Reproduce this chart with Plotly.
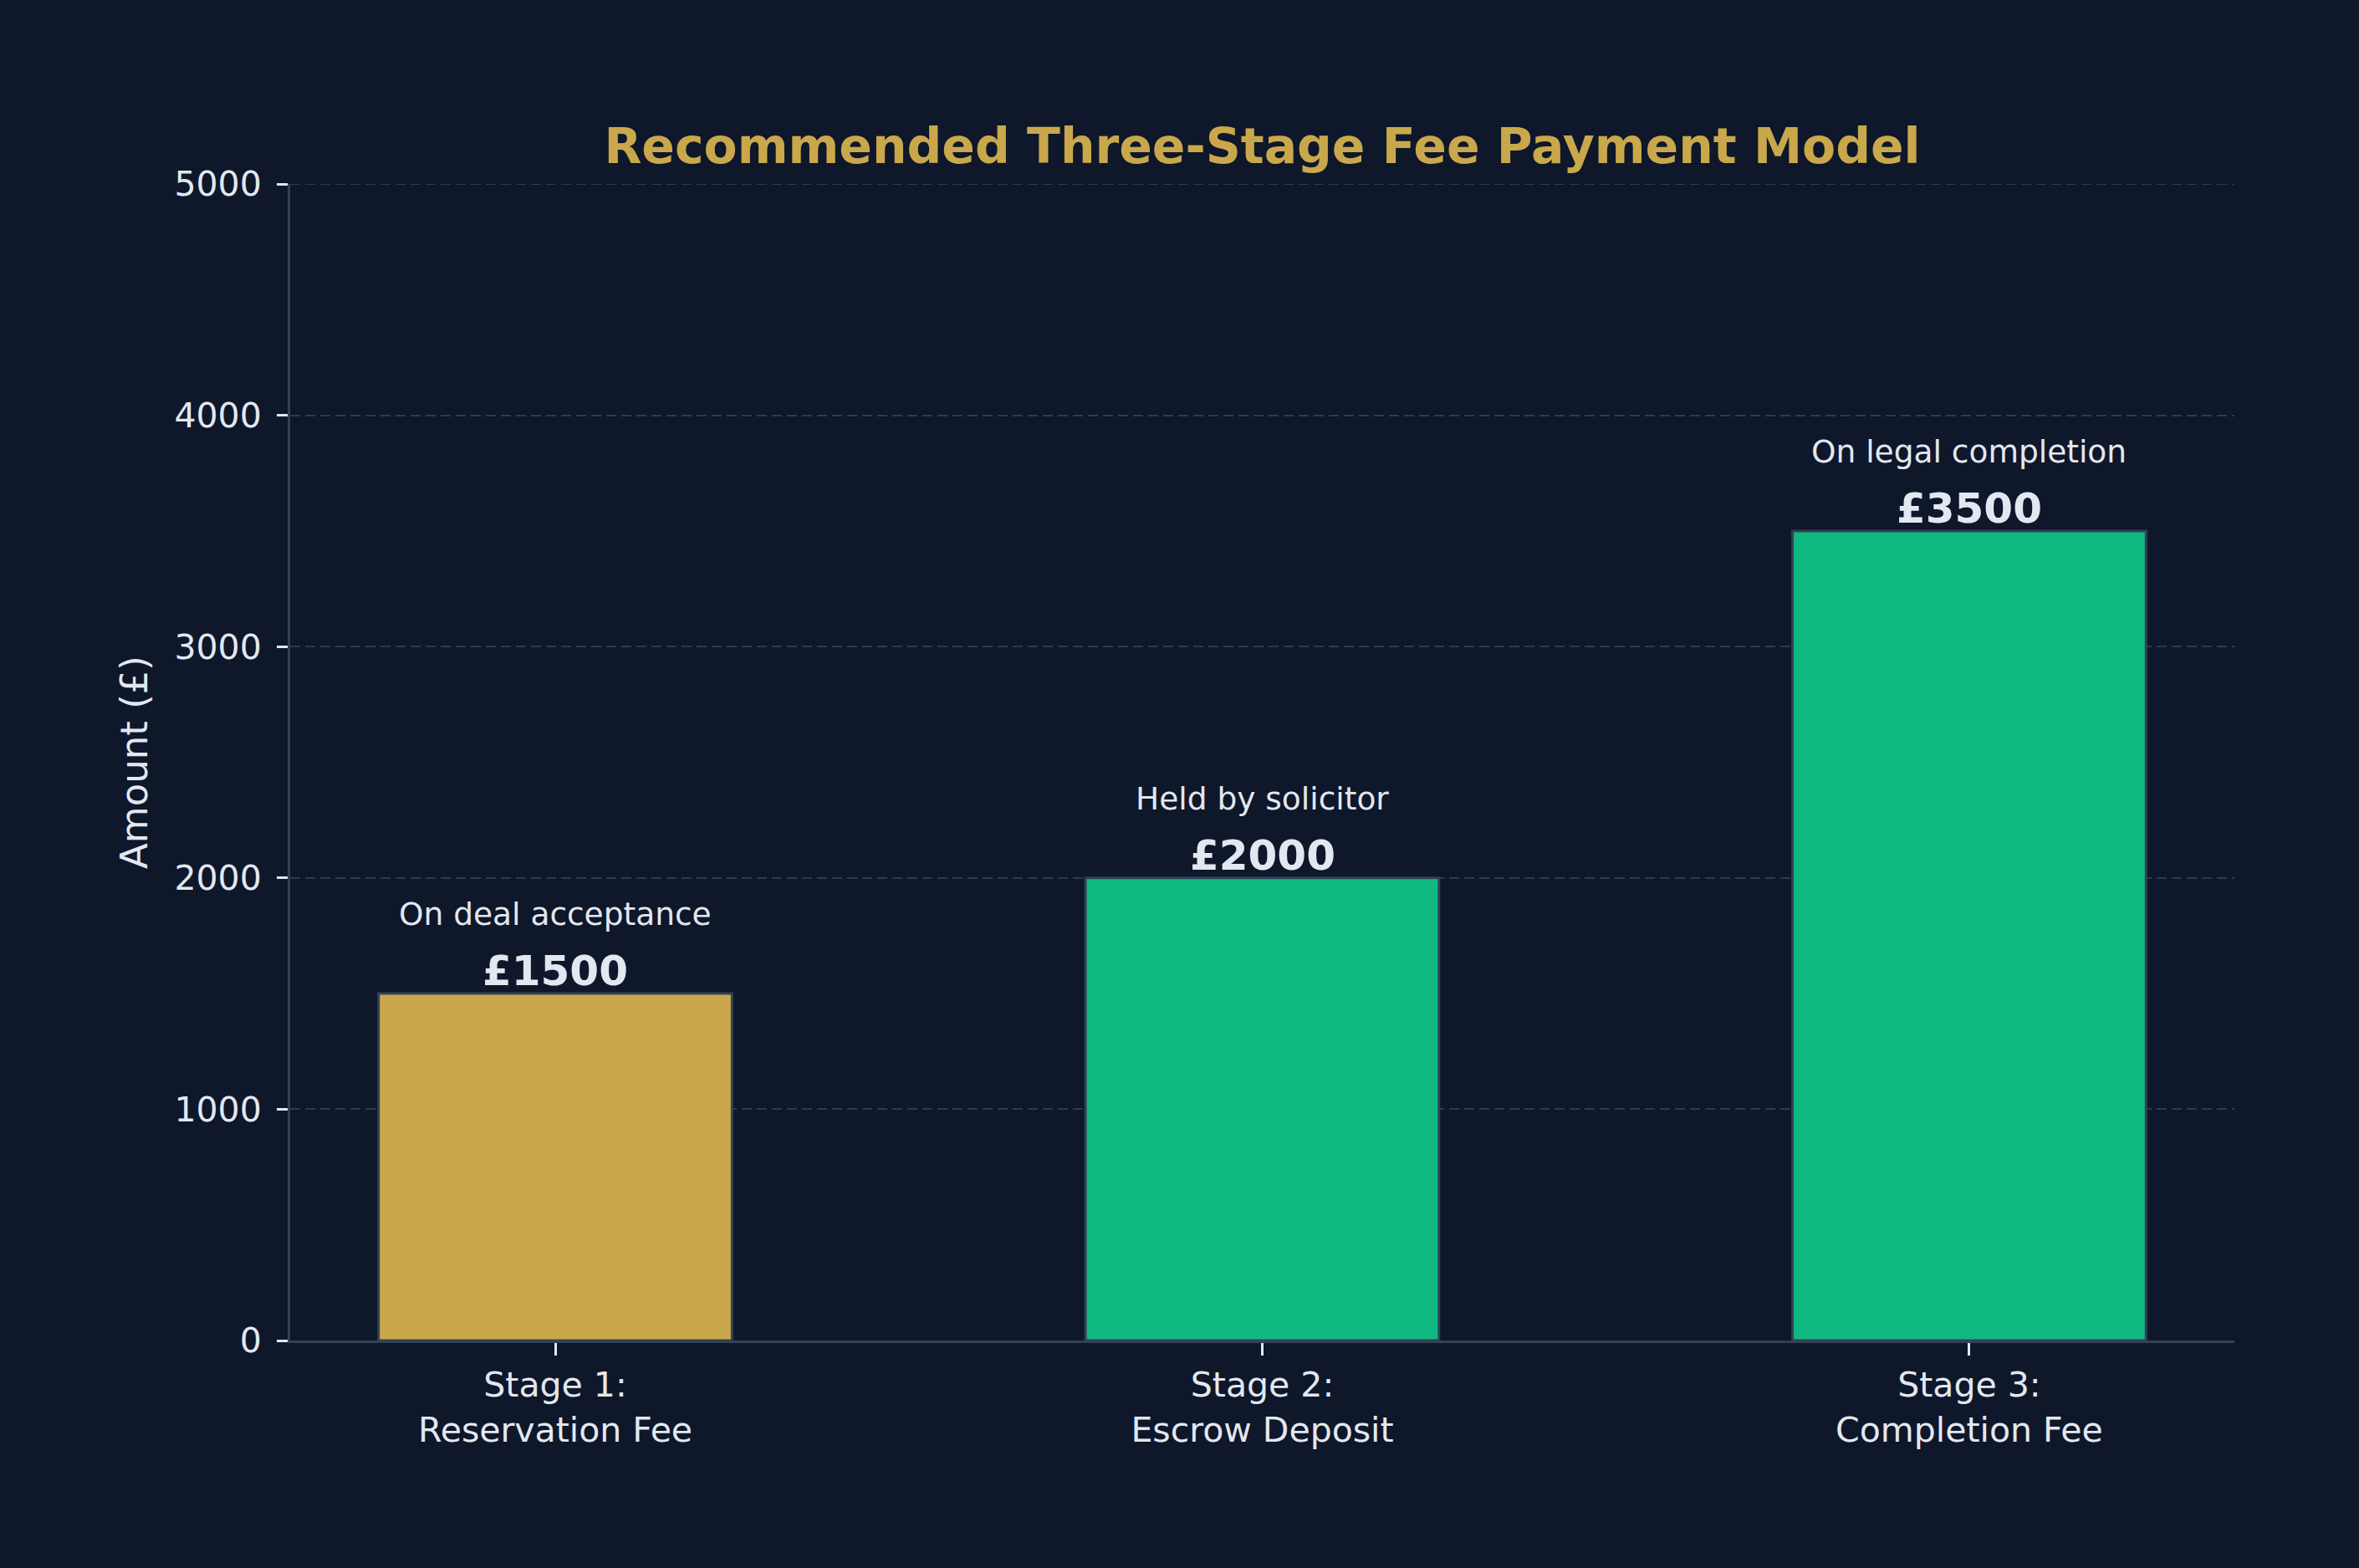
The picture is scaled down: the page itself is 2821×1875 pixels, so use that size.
import plotly.graph_objects as go

# ---- data ----
stages = ["Stage 1:<br>Reservation Fee", "Stage 2:<br>Escrow Deposit", "Stage 3:<br>Completion Fee"]
amounts = [1500, 2000, 3500]
notes = ["On deal acceptance", "Held by solicitor", "On legal completion"]
bar_colors = ["#C9A84C", "#10B981", "#10B981"]
y_ticks = [0, 1000, 2000, 3000, 4000, 5000]

BG = "#0F172A"
TXT = "#E2E8F0"
GOLD = "#C9A84C"
EDGE = "#334155"
GRID = "rgba(148,163,184,0.25)"
FONT = "DejaVu Sans"

fig = go.Figure()
fig.add_trace(go.Bar(
    x=stages, y=amounts,
    marker=dict(color=bar_colors, line=dict(color=EDGE, width=3)),
    width=0.5,
    hoverinfo="skip",
))

annotations = []
for s, v, n in zip(stages, amounts, notes):
    annotations.append(dict(
        x=s, y=v, xref="x", yref="y", text="<b>£%d</b>" % v,
        showarrow=False, yanchor="middle", yshift=27,
        font=dict(family=FONT, size=50, color=TXT),
    ))
    annotations.append(dict(
        x=s, y=v, xref="x", yref="y", text=n,
        showarrow=False, yanchor="middle", yshift=95,
        font=dict(family=FONT, size=37.5, color=TXT),
    ))

# top gridline (plotly omits the grid line at the range edge)
shapes = [dict(type="line", xref="paper", yref="y", x0=0, x1=1,
               y0=y_ticks[-1], y1=y_ticks[-1],
               line=dict(color=GRID, width=2, dash="12px,6px"))]

fig.update_layout(
    width=2821, height=1875,
    paper_bgcolor=BG, plot_bgcolor=BG,
    margin=dict(l=347, r=149, t=220, b=272),
    showlegend=False,
    title=dict(
        text="<b>Recommended Three-Stage Fee Payment Model</b>",
        x=0.5, xref="paper", xanchor="center",
        y=1 - 175 / 1875, yref="container", yanchor="middle",
        font=dict(family=FONT, size=58.4, color=GOLD),
    ),
    font=dict(family=FONT, color=TXT),
    annotations=annotations,
    shapes=shapes,
    bargap=0.5,
)

fig.update_xaxes(
    type="category",
    range=[-0.375, 2.375],
    showline=True, linecolor=EDGE, linewidth=3,
    ticks="outside", ticklen=15, tickwidth=3, tickcolor=TXT,
    tickfont=dict(family=FONT, size=41, color=TXT),
    showgrid=False, zeroline=False,
)
fig.update_yaxes(
    range=[0, 5000],
    tickvals=y_ticks,
    ticktext=[str(t) for t in y_ticks],
    showline=True, linecolor=EDGE, linewidth=3,
    ticks="outside", ticklen=13, tickwidth=3, tickcolor=TXT,
    tickfont=dict(family=FONT, size=41, color=TXT),
    ticklabelstandoff=10,
    showgrid=True, gridcolor=GRID, gridwidth=2,
    griddash="12px,6px",
    zeroline=False,
    layer="above traces",
    title=dict(text="Amount (£)", standoff=18,
               font=dict(family=FONT, size=45, color=TXT)),
)

fig.write_html("out.html")
